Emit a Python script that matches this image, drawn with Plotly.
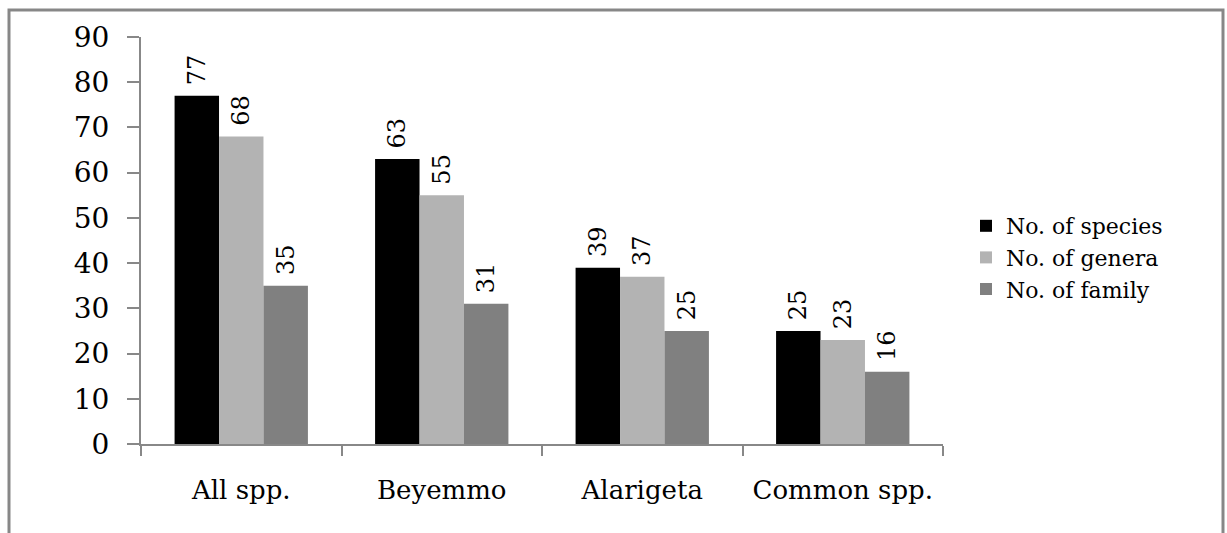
import plotly.graph_objects as go

# Floristic composition summary
categories = ["All spp.", "Beyemmo", "Alarigeta", "Common spp."]
species = [77, 63, 39, 25]
genera = [68, 55, 37, 23]
family = [35, 31, 25, 16]

series_names = ["No. of species", "No. of genera", "No. of family"]
series_colors = ["#000000", "#b3b3b3", "#808080"]

FONT = "DejaVu Serif"

fig = go.Figure()
for name, vals, col in zip(series_names, [species, genera, family], series_colors):
    fig.add_trace(go.Bar(
        name=name,
        x=categories,
        y=vals,
        marker=dict(color=col, line=dict(width=0)),
        # non-breaking space lifts the rotated value labels off the bar tops
        text=["\u00a0" + f"{v}" for v in vals],
        textposition="outside",
        textangle=-90,
        textfont=dict(family=FONT, size=24, color="#000000"),
        cliponaxis=False,
    ))

W, H = 1227, 533
L, R, T, B = 141, 284, 37, 89
pw, ph = W - L - R, H - T - B

def px_x(p):
    return (p - L) / pw

def px_y(p):
    return (H - B - p) / ph

fig.update_layout(
    width=W, height=H, autosize=False,
    margin=dict(l=L, r=R, t=T, b=B),
    paper_bgcolor="white", plot_bgcolor="white",
    barmode="group", bargap=0.335, bargroupgap=0,
    font=dict(family=FONT, size=24, color="#000000"),
    showlegend=True,
    legend=dict(
        x=px_x(966), y=px_y(205), xanchor="left", yanchor="top",
        font=dict(family=FONT, size=22, color="#000000"),
        itemwidth=30, tracegroupgap=0, bgcolor="rgba(0,0,0,0)",
    ),
    uniformtext=dict(mode=False),
    shapes=[dict(
        type="rect", xref="paper", yref="paper",
        x0=px_x(9), x1=px_x(1223), y0=px_y(560), y1=px_y(10),
        line=dict(color="#878787", width=3), fillcolor="rgba(0,0,0,0)",
        layer="below",
    )],
)

fig.update_yaxes(
    range=[0, 90], dtick=10, showgrid=False, zeroline=False,
    showline=True, linecolor="#888888", linewidth=2,
    ticks="outside", ticklen=12, tickcolor="#888888", tickwidth=2,
    tickfont=dict(family=FONT, size=28, color="#000000"),
    ticklabelstandoff=12,
)
fig.update_xaxes(
    showgrid=False, zeroline=False,
    showline=True, linecolor="#888888", linewidth=2,
    ticks="outside", tickson="boundaries", ticklen=10, tickcolor="#888888", tickwidth=2,
    tickfont=dict(family=FONT, size=26, color="#000000"),
    ticklabelstandoff=22,
)

fig.write_html("out.html")
